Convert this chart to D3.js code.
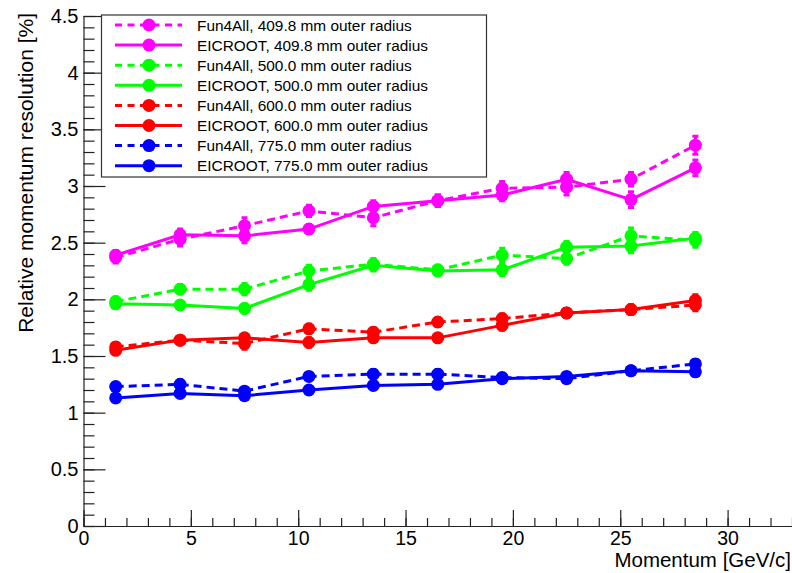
<!DOCTYPE html>
<html>
<head>
  <meta charset="utf-8">
  <title>Relative momentum resolution vs momentum</title>
  <script src="https://d3js.org/d3.v7.min.js"></script>
  <style>
    body {
      background-color: white;
      margin: 0;
      padding: 0;
      overflow: hidden;
    }
    svg text {
      font-family: "Liberation Sans", Arial, Helvetica, sans-serif;
    }
  </style>
</head>
<body>
  <svg width="792" height="573"></svg>

  <script>
    // momentum bins [GeV/c]
    const momentum = [1.5, 4.5, 7.5, 10.5, 13.5, 16.5, 19.5, 22.5, 25.5, 28.5];

    // relative momentum resolution [%]
    const fun4all_409 = [2.37, 2.53, 2.65, 2.78, 2.72, 2.87, 2.98, 2.99, 3.06, 3.36];
    const eicroot_409 = [2.39, 2.57, 2.56, 2.62, 2.82, 2.87, 2.92, 3.06, 2.88, 3.16];
    const fun4all_500 = [1.98, 2.09, 2.09, 2.25, 2.31, 2.26, 2.39, 2.36, 2.56, 2.52];
    const eicroot_500 = [1.96, 1.95, 1.92, 2.13, 2.30, 2.25, 2.26, 2.46, 2.47, 2.54];
    const fun4all_600 = [1.58, 1.64, 1.61, 1.74, 1.71, 1.80, 1.83, 1.88, 1.91, 1.95];
    const eicroot_600 = [1.55, 1.64, 1.66, 1.62, 1.66, 1.66, 1.77, 1.88, 1.91, 1.99];
    const fun4all_775 = [1.23, 1.25, 1.19, 1.32, 1.34, 1.34, 1.31, 1.30, 1.37, 1.43];
    const eicroot_775 = [1.13, 1.17, 1.15, 1.20, 1.24, 1.25, 1.30, 1.32, 1.37, 1.36];

    // error bars
    const err_fun4all_409 = [0.05, 0.06, 0.07, 0.05, 0.07, 0.05, 0.06, 0.07, 0.06, 0.08];
    const err_eicroot_409 = [0.04, 0.05, 0.06, 0.04, 0.05, 0.05, 0.05, 0.06, 0.07, 0.07];
    const err_fun4all_500 = [0.04, 0.04, 0.05, 0.05, 0.05, 0.04, 0.06, 0.05, 0.07, 0.06];
    const err_eicroot_500 = [0.04, 0.04, 0.04, 0.05, 0.05, 0.04, 0.05, 0.05, 0.06, 0.05];
    const err_fun4all_600 = [0.04, 0.03, 0.05, 0.04, 0.04, 0.04, 0.04, 0.04, 0.04, 0.05];
    const err_eicroot_600 = [0.03, 0.03, 0.03, 0.04, 0.03, 0.03, 0.04, 0.04, 0.04, 0.05];
    const err_fun4all_775 = [0.03, 0.04, 0.03, 0.03, 0.04, 0.04, 0.03, 0.03, 0.03, 0.04];
    const err_eicroot_775 = [0.03, 0.03, 0.03, 0.03, 0.03, 0.03, 0.03, 0.03, 0.03, 0.03];

    const seriesLabels = [
      "Fun4All, 409.8 mm outer radius",
      "EICROOT, 409.8 mm outer radius",
      "Fun4All, 500.0 mm outer radius",
      "EICROOT, 500.0 mm outer radius",
      "Fun4All, 600.0 mm outer radius",
      "EICROOT, 600.0 mm outer radius",
      "Fun4All, 775.0 mm outer radius",
      "EICROOT, 775.0 mm outer radius"
    ];

    const xTicks = [0, 5, 10, 15, 20, 25, 30];
    const yTicks = [0, 0.5, 1, 1.5, 2, 2.5, 3, 3.5, 4, 4.5];

    const series = [
      { values: fun4all_409, errors: err_fun4all_409, color: "#ff00ff", dashed: true },
      { values: eicroot_409, errors: err_eicroot_409, color: "#ff00ff", dashed: false },
      { values: fun4all_500, errors: err_fun4all_500, color: "#00ff00", dashed: true },
      { values: eicroot_500, errors: err_eicroot_500, color: "#00ff00", dashed: false },
      { values: fun4all_600, errors: err_fun4all_600, color: "#ff0000", dashed: true },
      { values: eicroot_600, errors: err_eicroot_600, color: "#ff0000", dashed: false },
      { values: fun4all_775, errors: err_fun4all_775, color: "#0000ff", dashed: true },
      { values: eicroot_775, errors: err_eicroot_775, color: "#0000ff", dashed: false }
    ].map((s, i) => ({ ...s, label: seriesLabels[i] }));

    const svg = d3.select("svg"),
          x0 = 83.5, x1 = 792, y0 = 526, y1 = 16;

    const xScale = d3.scaleLinear().domain([0, 33]).range([x0, x1]);
    const yScale = d3.scaleLinear().domain([0, 4.5]).range([y0, y1]);

    const dash = "8,5";

    // minor ticks first, then major axes with labels
    svg.append("g")
        .attr("transform", "translate(0," + y0 + ")")
        .call(d3.axisBottom(xScale).tickValues(d3.range(0, 34, 1)).tickSize(-8).tickFormat(""))
        .call(g => g.select(".domain").remove());

    svg.append("g")
        .attr("transform", "translate(" + x0 + ",0)")
        .call(d3.axisLeft(yScale).tickValues(d3.range(0, 46, 1).map(d => d / 10)).tickSize(-11).tickFormat(""))
        .call(g => g.select(".domain").remove());

    svg.append("g")
        .attr("transform", "translate(0," + y0 + ")")
        .call(d3.axisBottom(xScale).tickValues(xTicks).tickSize(-16).tickSizeOuter(0).tickPadding(5).tickFormat(d3.format("d")))
        .call(g => g.selectAll("text").attr("font-size", "19.5px").attr("fill", "black"));

    svg.append("g")
        .attr("transform", "translate(" + x0 + ",0)")
        .call(d3.axisLeft(yScale).tickValues(yTicks).tickSize(-22).tickSizeOuter(0).tickPadding(5).tickFormat(d => d))
        .call(g => g.selectAll("text").attr("font-size", "20px").attr("fill", "black"));

    svg.selectAll(".domain, .tick line").attr("stroke", "#222").attr("stroke-width", 1.2);

    // axis titles
    svg.append("text")
        .attr("x", 791)
        .attr("y", 567)
        .attr("text-anchor", "end")
        .attr("font-size", "20.5px")
        .text("Momentum [GeV/c]");

    svg.append("text")
        .attr("transform", "translate(33,13) rotate(-90)")
        .attr("text-anchor", "end")
        .attr("font-size", "21px")
        .text("Relative momentum resolution [%]");

    // data
    const line = d3.line()
        .x((d, i) => xScale(momentum[i]))
        .y(d => yScale(d));

    series.forEach(s => {
      const g = svg.append("g");

      g.append("path")
        .datum(s.values)
        .attr("d", line)
        .attr("fill", "none")
        .attr("stroke", s.color)
        .attr("stroke-width", 3)
        .attr("stroke-dasharray", s.dashed ? dash : null);

      g.selectAll(".err")
        .data(s.values)
        .enter().append("path")
          .attr("class", "err")
          .attr("d", (d, i) => {
            const x = xScale(momentum[i]),
                  ya = yScale(d + s.errors[i]),
                  yb = yScale(d - s.errors[i]);
            return "M" + x + "," + ya + "V" + yb +
                   "M" + (x - 3) + "," + ya + "H" + (x + 3) +
                   "M" + (x - 3) + "," + yb + "H" + (x + 3);
          })
          .attr("stroke", s.color)
          .attr("stroke-width", 3)
          .attr("fill", "none");

      g.selectAll(".marker")
        .data(s.values)
        .enter().append("circle")
          .attr("class", "marker")
          .attr("cx", (d, i) => xScale(momentum[i]))
          .attr("cy", d => yScale(d))
          .attr("r", 6.5)
          .attr("fill", s.color);
    });

    // legend
    const legend = svg.append("g");

    legend.append("rect")
        .attr("x", 101.5)
        .attr("y", 15)
        .attr("width", 385)
        .attr("height", 162)
        .attr("fill", "white")
        .attr("stroke", "#333")
        .attr("stroke-width", 1.2);

    const rows = legend.selectAll(".entry")
      .data(series)
      .enter().append("g")
        .attr("class", "entry")
        .attr("transform", (d, i) => "translate(0," + (25 + i * 20.1) + ")");

    rows.append("line")
        .attr("x1", 115)
        .attr("x2", 182)
        .attr("stroke", d => d.color)
        .attr("stroke-width", 3)
        .attr("stroke-dasharray", d => d.dashed ? "7,5.5" : null);

    rows.append("circle")
        .attr("cx", 149)
        .attr("r", 6.5)
        .attr("fill", d => d.color);

    rows.append("text")
        .attr("x", 197)
        .attr("dy", "0.36em")
        .attr("font-size", "15.4px")
        .text(d => d.label);
  </script>
</body>
</html>
